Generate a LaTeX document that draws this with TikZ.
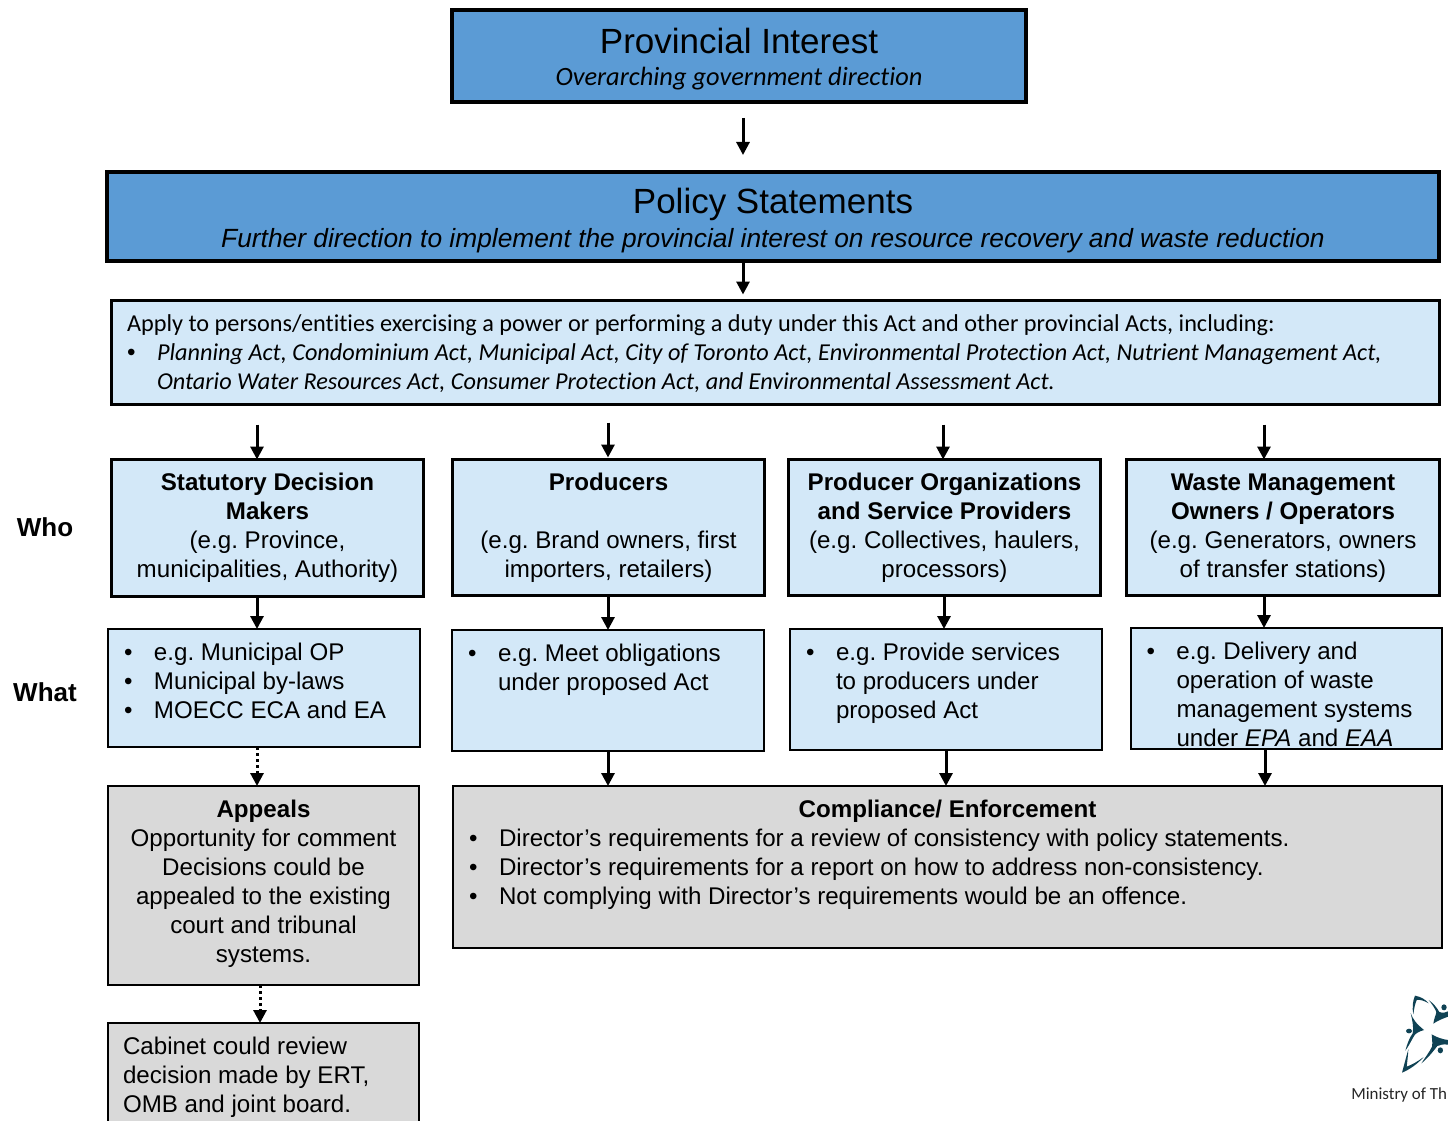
\documentclass[tikz,border=0pt]{standalone}
\usepackage{fontspec}
\setmainfont{Liberation Sans}
\newfontfamily\calib[Ligatures=CommonOff]{Carlito}
\usetikzlibrary{arrows.meta}
\definecolor{topblue}{HTML}{5B9BD5}
\definecolor{lightblue}{HTML}{D3E8F8}
\definecolor{lightgray}{HTML}{D9D9D9}
\definecolor{logoteal}{HTML}{0F4254}
\newlength{\pxu}\setlength{\pxu}{0.75pt}
\tikzset{
  bxbase/.style={draw=black,inner sep=0pt,outer sep=0pt,anchor=center},
  bigbox/.style={bxbase,fill=topblue,line width=4\pxu},
  midbox/.style={bxbase,fill=lightblue,line width=3\pxu},
  whatbox/.style={bxbase,fill=lightblue,line width=2\pxu},
  graybox/.style={bxbase,fill=lightgray,line width=1.5\pxu},
  arr/.style={line width=3\pxu,-{Triangle[length=9.75pt,width=9.75pt]}},
  dotarr/.style={line width=3\pxu,dash pattern=on 3\pxu off 3\pxu,-{Triangle[length=9.75pt,width=9.75pt]}},
  sidelabel/.style={font=\fontsize{19.5}{22}\selectfont\bfseries,inner sep=0pt},
  logotext/.style={font=\calib\fontsize{12.7}{14}\selectfont,inner sep=0pt,anchor=base west,text=black!85}
}
% name, style, x1, y1, x2, y2, top pad (px), content
\newcommand{\bx}[8]{%
  \pgfmathsetmacro{\bxw}{#5-#3}\pgfmathsetmacro{\bxh}{#6-#4}%
  \node[#2,minimum width=\bxw\pxu,minimum height=\bxh\pxu] (#1) at ({(#3+#5)/2},{(#4+#6)/2})
    {\begin{minipage}[c][\bxh\pxu][t]{\bxw\pxu}\frenchspacing\vspace*{#7\pxu}\parindent=0pt #8\end{minipage}};}
\newcommand{\body}{\fontsize{18.1}{21.75}\selectfont}
\newcommand{\bl}[1]{\makebox[30\pxu][l]{\rmfamily\upshape •}#1}
\newcommand{\ind}{\hspace*{30\pxu}}
\begin{document}
\begin{tikzpicture}[x=0.75pt,y=-0.75pt]
\clip (0,0) rectangle (1448,1120);
\fill[white] (0,0) rectangle (1448,1120);

\bx{prov}{bigbox}{452}{10}{1026}{102}{14}{\centering
  {\fontsize{26.25}{32}\selectfont\strut Provincial Interest\par}\vspace{-3pt}
  {\calib\itshape\fontsize{19.8}{23}\selectfont\strut Overarching government direction\par}}
\bx{pol}{bigbox}{107}{172}{1439}{261}{12}{\centering
  {\fontsize{26.25}{32}\selectfont\strut Policy Statements\par}\vspace{-1.8pt}
  {\itshape\fontsize{19.75}{23}\selectfont\strut Further direction to implement the provincial interest on resource recovery and waste reduction\par}}
\bx{app}{midbox}{111.5}{300.5}{1439}{404.5}{11}{\leftskip=15.5\pxu\calib\fontsize{18.2}{21.75}\selectfont
  \strut Apply to persons/entities exercising a power or performing a duty under this Act and other provincial Acts, including:\par
  \strut\bl{\itshape Planning Act, Condominium Act, Municipal Act, City of Toronto Act, Environmental Protection Act, Nutrient Management Act,}\par
  \strut\ind{\itshape Ontario Water Resources Act, Consumer Protection Act, and Environmental Assessment Act}.\par}

\bx{whoa}{midbox}{111.5}{459.5}{423.5}{596.5}{11}{\centering\body
  \strut\textbf{Statutory Decision}\par\strut\textbf{Makers}\par\strut(e.g. Province,\par\strut municipalities, Authority)\par}
\bx{whob}{midbox}{452.5}{459.5}{764.5}{595}{11}{\centering\body
  \strut\textbf{Producers}\par\strut\par\strut(e.g. Brand owners, first\par\strut importers, retailers)\par}
\bx{whoc}{midbox}{788.5}{459.5}{1100.5}{595}{11}{\centering\body
  \strut\textbf{Producer Organizations}\par\strut\textbf{and Service Providers}\par\strut(e.g. Collectives, haulers,\par\strut processors)\par}
\bx{whod}{midbox}{1126.5}{459.5}{1439.5}{595}{11}{\centering\body
  \strut\textbf{Waste Management}\par\strut\textbf{Owners / Operators}\par\strut(e.g. Generators, owners\par\strut of transfer stations)\par}

\bx{whata}{whatbox}{108}{629}{420}{747}{11}{\leftskip=16\pxu\body
  \strut\bl{e.g. Municipal OP}\par\strut\bl{Municipal by-laws}\par\strut\bl{MOECC ECA and EA}\par}
\bx{whatb}{whatbox}{452}{630}{764}{751}{11}{\leftskip=16\pxu\body
  \strut\bl{e.g. Meet obligations}\par\strut\ind under proposed Act\par}
\bx{whatc}{whatbox}{790}{629}{1102}{750}{11}{\leftskip=16\pxu\body
  \strut\bl{e.g. Provide services}\par\strut\ind to producers under\par\strut\ind proposed Act\par}
\bx{whatd}{whatbox}{1131}{628}{1442}{749}{11}{\leftskip=15.5\pxu\body
  \strut\bl{e.g. Delivery and}\par\strut\ind operation of waste\par\strut\ind management systems\par\strut\ind under \textit{EPA} and \textit{EAA}\par}

\bx{appeal}{graybox}{108}{786}{419}{985}{11}{\centering\body
  \strut\textbf{Appeals}\par\strut Opportunity for comment\par\strut Decisions could be\par\strut appealed to the existing\par\strut court and tribunal\par\strut systems.\par}
\bx{comp}{graybox}{453}{786}{1442}{948}{11}{\leftskip=16\pxu\body
  {\leftskip=0pt\centering\strut\textbf{Compliance/ Enforcement}\par}
  \strut\bl{Director’s requirements for a review of consistency with policy statements.}\par
  \strut\bl{Director’s requirements for a report on how to address non-consistency.}\par
  \strut\bl{Not complying with Director’s requirements would be an offence.}\par}
\bx{cab}{graybox}{108}{1023}{419}{1130}{11}{\leftskip=15\pxu\body
  \strut Cabinet could review\par\strut decision made by ERT,\par\strut OMB and joint board.\par}

\node[sidelabel] (who) at (45,527) {Who};
\node[sidelabel] (what) at (45,692) {What};

% x positions of the connectors
\foreach \n/\x in {c/743,a/257,b/608,d/943,e/1264,f/944,g/946,h/1265,i/260}{\coordinate (x\n) at (\x,0);}
\draw[arr,shorten <=16\pxu,shorten >=17\pxu] (prov.south -| xc) -- (pol.north -| xc);
\draw[arr,shorten >=6\pxu] (pol.south -| xc) -- (app.north -| xc);
\draw[arr,shorten <=20\pxu] (app.south -| xa) -- (whoa.north -| xa);
\draw[arr,shorten <=18\pxu,shorten >=2\pxu] (app.south -| xb) -- (whob.north -| xb);
\draw[arr,shorten <=20\pxu] (app.south -| xd) -- (whoc.north -| xd);
\draw[arr,shorten <=20\pxu] (app.south -| xe) -- (whod.north -| xe);
\draw[arr] (whoa.south -| xa) -- (whata.north -| xa);
\draw[arr] (whob.south -| xb) -- (whatb.north -| xb);
\draw[arr] (whoc.south -| xf) -- (whatc.north -| xf);
\draw[arr] (whod.south -| xe) -- (whatd.north -| xe);
\draw[dotarr] (whata.south -| xa) -- (appeal.north -| xa);
\draw[arr] (whatb.south -| xb) -- (comp.north -| xb);
\draw[arr] (whatc.south -| xg) -- (comp.north -| xg);
\draw[arr] (whatd.south -| xh) -- (comp.north -| xh);
\draw[dotarr] (appeal.south -| xi) -- (cab.north -| xi);

% ministry logo (zoom-crop coordinates: 3 units per pixel)
\begin{scope}[shift={(1300,980)},x=0.25pt,y=-0.25pt,fill=logoteal]
\fill (345,47) .. controls (362,50) and (376,58) .. (386,70) .. controls (372,62) and (360,58) .. (350,60) .. controls (345,72) and (342,86) .. (340,103) .. controls (336,84) and (338,62) .. (345,47) -- cycle;
\fill (386,60) .. controls (400,70) and (410,82) .. (418,96) .. controls (428,100) and (438,98) .. (444,94) -- (444,110) .. controls (428,116) and (412,122) .. (400,131) .. controls (402,115) and (408,105) .. (409,96) .. controls (404,84) and (396,72) .. (386,60) -- cycle;
\fill (332,99) .. controls (338,118) and (350,132) .. (372,150) .. controls (358,154) and (346,160) .. (342,168) .. controls (334,182) and (326,198) .. (316,212) .. controls (322,190) and (328,174) .. (338,160) .. controls (342,140) and (336,118) .. (332,99) -- cycle;
\fill (395,163) .. controls (410,172) and (428,178) .. (444,180) -- (444,194) .. controls (430,192) and (420,194) .. (412,198) .. controls (398,216) and (382,236) .. (364,250) .. controls (376,232) and (388,216) .. (396,200) .. controls (398,188) and (396,176) .. (395,163) -- cycle;
\fill (325,208) .. controls (318,232) and (312,256) .. (306,278) .. controls (330,268) and (352,252) .. (371,231) .. controls (354,244) and (336,254) .. (320,260) .. controls (322,244) and (324,226) .. (325,208) -- cycle;
\fill (327,153) circle [x radius=9,y radius=7];
\fill (421,211) circle [x radius=8,y radius=9];
\fill (432,82) circle [x radius=8,y radius=9];
\end{scope}
\node[logotext] (ministry) at (1351,1099) {Ministry of Th};
\end{tikzpicture}
\end{document}
